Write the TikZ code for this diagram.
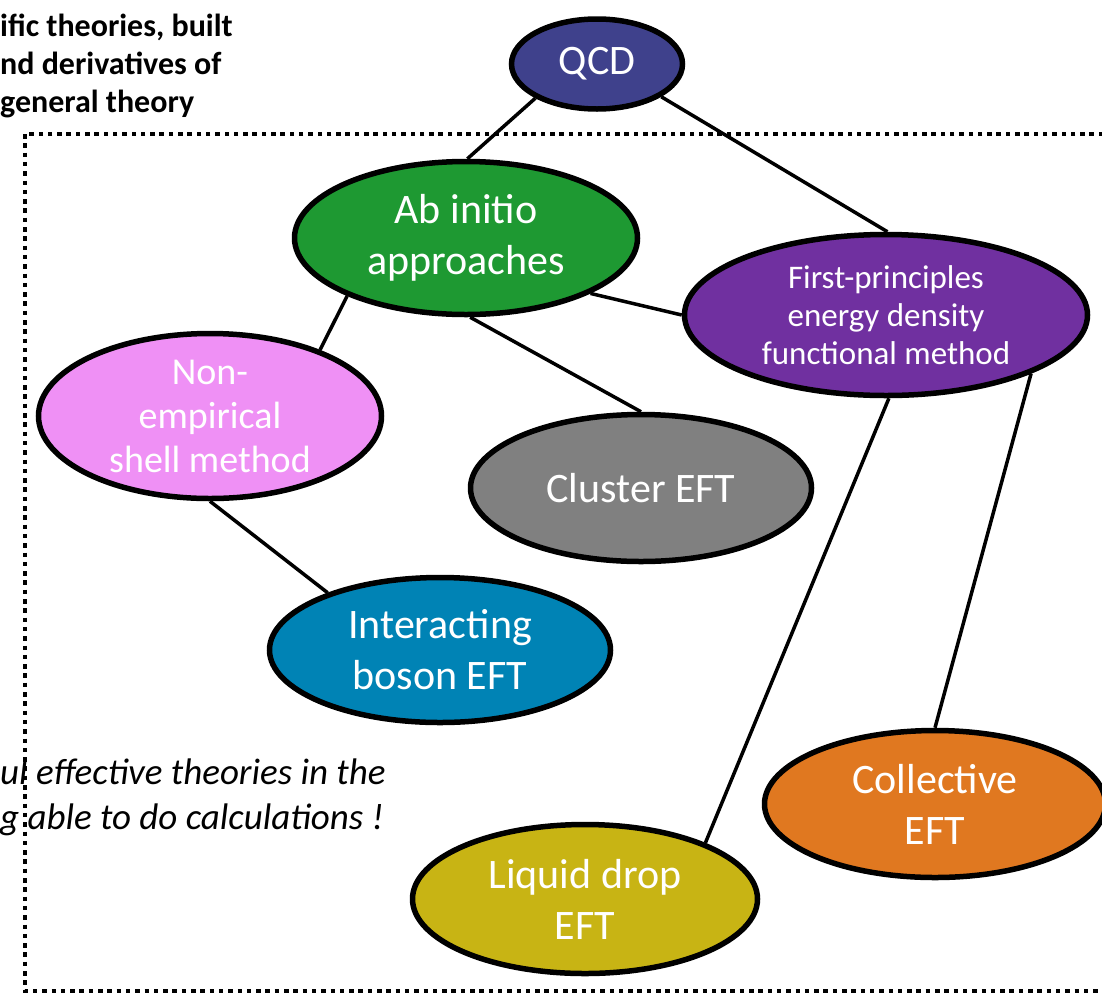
\documentclass[tikz,border=0pt]{standalone}
\usepackage{fontspec}
\setmainfont{Carlito}
\usetikzlibrary{shapes.geometric}

\definecolor{qcdblue}{HTML}{3F418C}
\definecolor{abgreen}{HTML}{1E9932}
\definecolor{fppurple}{HTML}{7030A0}
\definecolor{nepink}{HTML}{EF90F5}
\definecolor{clgray}{HTML}{808080}
\definecolor{ibblue}{HTML}{0083B5}
\definecolor{coorange}{HTML}{E07820}
\definecolor{ldolive}{HTML}{C8B414}

\begin{document}
\begin{tikzpicture}[x=1pt, y=-1pt,
    theory/.style={ellipse, draw=black, line width=5.5pt, inner sep=0pt, align=center, text=white, font=\fontsize{42}{51}\selectfont, minimum width=343pt, minimum height=150pt},
    link/.style={line width=3.5pt, color=black},
    frame/.style={line width=4pt, dash pattern=on 4.5pt off 4.8pt},
    note/.style={anchor=north west, align=left, inner sep=0pt}
]
\useasboundingbox (0,0) rectangle (1102,994);
\clip (0,0) rectangle (1102,994);

% Dotted frame round the effective theories
\draw[frame] (25,134) rectangle (1130,991);

% Notes
\node[note, font=\bfseries\fontsize{32}{38}\selectfont] (topnote) at (0,14) {ific theories, built\\nd derivatives of\\general theory};
\node[note, font=\itshape\fontsize{37}{45}\selectfont] (calcnote) at (0,759) {ul effective theories in the\\g able to do calculations !};

% Theories
\node[theory, fill=qcdblue, minimum width=171pt, minimum height=90pt] (QCD) at (597,64) {QCD};
\node[theory, fill=abgreen, minimum width=343pt, minimum height=153pt] (Ab) at (466,238) {Ab initio\\approaches};
\node[theory, fill=fppurple, minimum width=403pt, minimum height=161pt, inner ysep=-15pt, font=\fontsize{33}{38}\selectfont] (FP) at (886,315) {First-principles\\energy density\\functional method};
\node[theory, fill=nepink, minimum width=343pt, minimum height=165pt, inner ysep=-20pt, font=\fontsize{38}{44}\selectfont] (NE) at (210,416) {Non-\\empirical\\shell method};
\node[theory, fill=clgray, minimum width=341pt, minimum height=147pt] (CL) at (641,488) {Cluster EFT};
\node[theory, fill=ibblue, minimum width=341pt, minimum height=145pt] (IB) at (440,650) {Interacting\\boson EFT};
\node[theory, fill=coorange, minimum width=341pt, minimum height=147pt] (CO) at (935,804) {Collective\\EFT};
\node[theory, fill=ldolive, minimum width=345pt, minimum height=149pt] (LD) at (585,899) {Liquid drop\\EFT};

% Links
\draw[link] (QCD.209) -- (Ab.89);
\draw[link] (QCD.333) -- (FP.89);
\draw[link] (Ab.336) -- (FP.west);
\draw[link] (Ab.206) -- (NE.31);
\draw[link] (Ab.273) -- (CL.north);
\draw[link] (NE.south) -- (IB.153);
\draw[link] (FP.272) -- (LD.25);
\draw[link] (FP.338) -- (CO.north);

\end{tikzpicture}
\end{document}
